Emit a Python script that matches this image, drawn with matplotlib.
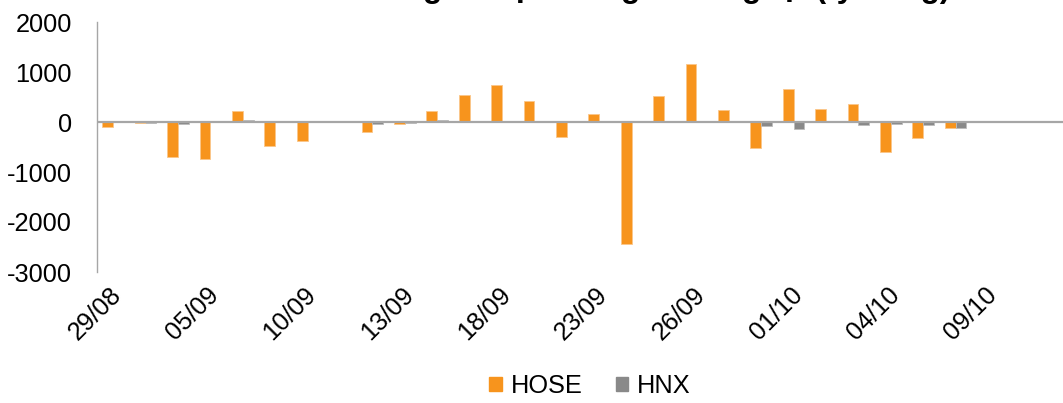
import numpy as np
import matplotlib
matplotlib.use("Agg")
import matplotlib.pyplot as plt
import matplotlib.transforms as mtransforms
from matplotlib.patches import Patch

plt.rcParams['font.family'] = ['Liberation Sans', 'DejaVu Sans']
plt.rcParams['axes.unicode_minus'] = False

# trading days (only every 3rd one is labelled on the chart)
dates = ['29/08', '30/08', '04/09', '05/09', '06/09', '09/09', '10/09', '11/09',
         '12/09', '13/09', '16/09', '17/09', '18/09', '19/09', '20/09', '23/09',
         '24/09', '25/09', '26/09', '27/09', '30/09', '01/10', '02/10', '03/10',
         '04/10', '07/10', '08/10', '09/10', '10/10', '11/10']
hose = [-90, -15, -700, -745, 215, -485, -375, -5, -190, -35, 225, 535, 735, 420,
        -305, 155, -2450, 530, 1170, 235, -510, 660, 270, 365, -600, -325, -110,
        None, None, None]
hnx = [15, -10, -40, 5, 35, -5, 0, 0, -35, -10, 35, 0, 0, 0, 30, 30, 0, 0, 0,
       -5, -80, -130, 0, -50, -30, -50, -110, None, None, None]
title = 'Diễn biến giao dịch ròng khối ngoại (tỷ đồng)'

W, H = 1063, 403
fig = plt.figure(figsize=(W / 100, H / 100), dpi=100)
ax = fig.add_axes([97 / W, (H - 272) / H, 972 / W, 250 / H])

x = np.arange(len(dates))
hose_v = np.array([np.nan if v is None else v for v in hose], dtype=float)
hnx_v = np.array([np.nan if v is None else v for v in hnx], dtype=float)
bw = 1 / 3
ax.bar(x - bw / 2, hose_v, bw, color='#F7941D', edgecolor='#FBC68A', linewidth=0.6, zorder=2)
ax.bar(x + bw / 2, hnx_v, bw, color='#898989', edgecolor='#BDBDBD', linewidth=0.6, zorder=2)
ax.axhline(0, color='#A6A6A6', lw=1.6, zorder=3)

ax.set_xlim(-0.5, len(dates) - 0.5)
ax.set_ylim(-3000, 2000)
ax.set_yticks(np.arange(-3000, 2001, 1000))
ax.tick_params(axis='y', length=0, pad=18, labelsize=18.3)
ax.set_xticks(x[::3])
ax.set_xticklabels(dates[::3], rotation=45, ha='right', va='center',
                   rotation_mode='anchor', fontsize=18.3)
ax.tick_params(axis='x', length=0, pad=14)
shift = mtransforms.ScaledTranslation(5 / 100, 0, fig.dpi_scale_trans)
for lab in ax.get_xticklabels():
    lab.set_transform(lab.get_transform() + shift)

for s in ['top', 'right', 'bottom']:
    ax.spines[s].set_visible(False)
ax.spines['left'].set_color('#A6A6A6')
ax.spines['left'].set_linewidth(1.0)

# title is cropped at the top edge in the source image
fig.text(950 / W, 1 + 3 / H, title, ha='right', va='baseline',
         fontsize=22.7, fontweight='bold')

handles = [Patch(color='#F7941D', label='HOSE'), Patch(color='#898989', label='HNX')]
fig.legend(handles=handles, loc='center', bbox_to_anchor=(590 / W, 1 - 386 / H),
           ncol=2, frameon=False, fontsize=18.3, handlelength=0.5, handleheight=0.5,
           handletextpad=0.35, columnspacing=1.3, borderpad=0)

fig.savefig('out.png', dpi=100)
